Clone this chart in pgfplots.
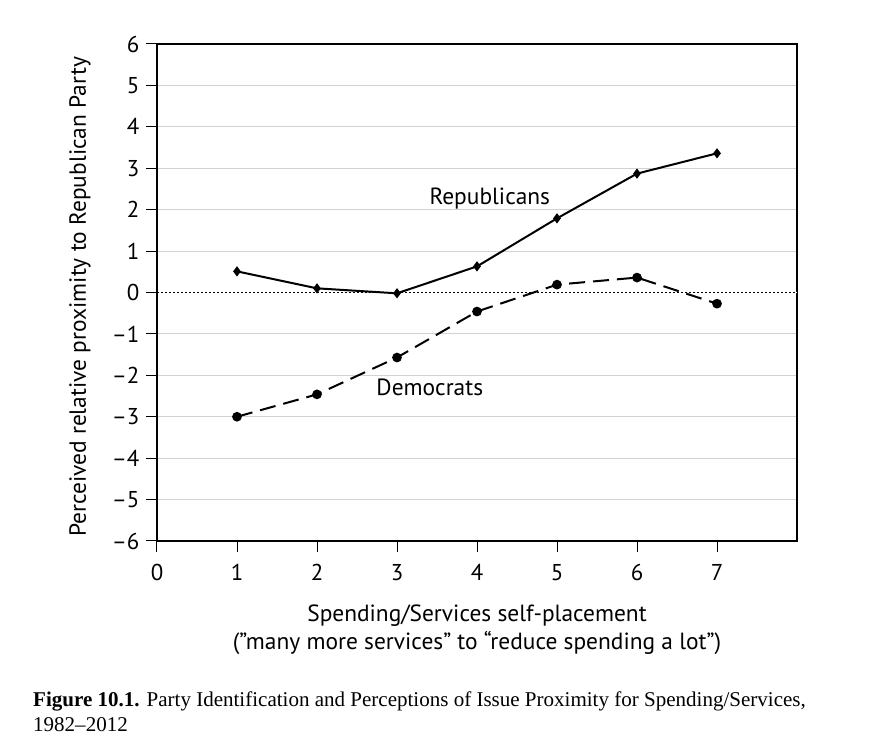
\documentclass[border=0pt]{standalone}
\usepackage{fontspec}
\setmainfont{PT Sans}
\newfontfamily\capfont{Liberation Serif}
\usepackage{pgfplots}
\pgfplotsset{compat=1.18}
\begin{document}
\begin{tikzpicture}[x=1bp,y=1bp]
% picture frame: axis south west sits at pixel (157,541) of the 874x752 reference
\path[use as bounding box] (-157,-211) rectangle (717,541);
\begin{axis}[
  at={(0,0)}, anchor=south west,
  scale only axis, width=640bp, height=497bp,
  xmin=0, xmax=8, ymin=-6, ymax=6,
  xtick={0,...,7}, ytick={-6,...,6},
  xtick pos=bottom, ytick pos=left,
  yticklabels={–6,–5,–4,–3,–2,–1,0,1,2,3,4,5,6},
  tick align=outside, major tick length=11bp,
  tick style={black, line width=1bp},
  axis line style={line width=1.2bp},
  ymajorgrids, grid style={gray!35, line width=1bp},
  ticklabel style={font=\fontsize{23}{26}\selectfont},
  xticklabel style={yshift=-9bp},
  yticklabel style={xshift=-3bp},
  /pgf/number format/assume math mode=true,
  clip=false,
]
\addplot[white, line width=1.4bp, forget plot] coordinates {(0,0) (8,0)};
\addplot[black, line width=0.8bp, dash pattern=on 2bp off 2bp, forget plot] coordinates {(0,0) (8,0)};
% Republicans
\addplot[black, line width=2bp, mark=diamond*, mark size=3.5bp] coordinates {
  (1,0.51) (2,0.10) (3,-0.02) (4,0.63) (5,1.79) (6,2.87) (7,3.36)};
% Democrats
\addplot[black, line width=2bp, dash pattern=on 16bp off 8bp, mark=*, mark size=3.8bp,
  mark options={solid}] coordinates {
  (1,-3.00) (2,-2.46) (3,-1.57) (4,-0.46) (5,0.19) (6,0.36) (7,-0.27)};
\node[font=\fontsize{23.5}{27}\selectfont] at (axis cs:4.16,2.27) {Republicans};
\node[font=\fontsize{23.5}{27}\selectfont] at (axis cs:3.41,-2.29) {Democrats};
\end{axis}
\node[rotate=90, font=\fontsize{23.5}{27}\selectfont] at (-77,244) {Perceived relative proximity to Republican Party};
\node[anchor=base, font=\fontsize{23.5}{27}\selectfont] at (320,-80) {Spending/Services self-placement};
\node[anchor=base, font=\fontsize{23.5}{27}\selectfont] at (320,-108) {(”many more services” to “reduce spending a lot”)};
\node[anchor=base west, inner sep=0pt, font=\capfont\fontsize{21.1}{24}\selectfont] at (-124,-165) {\textbf{Figure 10.1.} Party Identification and Perceptions of Issue Proximity for Spending/Services,};
\node[anchor=base west, inner sep=0pt, font=\capfont\fontsize{21.1}{24}\selectfont] at (-124,-190) {1982–2012};
\end{tikzpicture}
\end{document}
